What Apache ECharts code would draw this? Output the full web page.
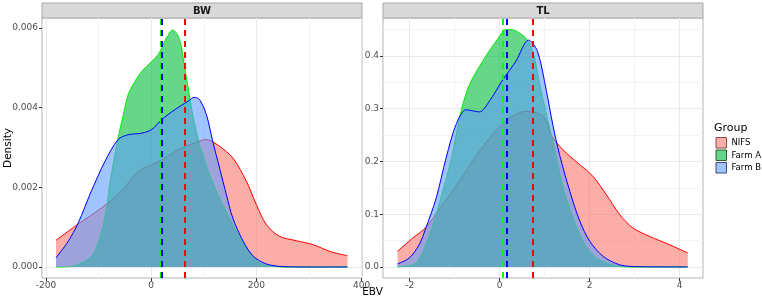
<!DOCTYPE html>
<html>
<head>
<meta charset="utf-8">
<script src="https://cdn.jsdelivr.net/npm/echarts@6/dist/echarts.min.js"></script>
<style>
html,body{margin:0;padding:0;background:#fff;}
#chart{width:762px;height:301px;}
</style>
</head>
<body>
<div id="chart"></div>
<script>
// ---------- data ----------
const panels = ['BW', 'TL'];
const groups = ['NIFS', 'Farm A', 'Farm B'];

// BW panel densities
const bwNifsX = [-181, -142, -95, -57, -25, 1, 20, 58, 96, 103, 111, 130, 155, 181, 200, 219, 244, 276, 308, 340, 373];
const bwNifsY = [0.00067, 0.00105, 0.00148, 0.0019, 0.0024, 0.00257, 0.00269, 0.00299, 0.00318, 0.0032, 0.00318, 0.00303, 0.00274, 0.00215, 0.00156, 0.00106, 0.00077, 0.00066, 0.00056, 0.00039, 0.00028];

const bwFarmAX = [-181, -150, -133, -120, -107, -88, -79, -68, -63, -53, -44, -31, -18, 1, 13, 20, 29, 41, 48, 55, 61, 67, 74, 80, 92, 111, 130, 155, 181, 206, 230, 260, 373];
const bwFarmAY = [0, 0.00002, 0.0001, 0.0002, 0.00039, 0.00123, 0.00207, 0.0029, 0.00324, 0.00382, 0.00432, 0.00466, 0.00491, 0.00516, 0.00533, 0.0055, 0.00575, 0.00595, 0.00587, 0.00566, 0.00524, 0.00474, 0.0042, 0.00374, 0.00307, 0.00232, 0.00173, 0.00106, 0.00048, 0.0001, 0.00002, 0, 0];

const bwFarmBX = [-181, -158, -139, -114, -88, -63, -44, -18, 1, 20, 45, 70, 82, 92, 105, 117, 130, 143, 155, 175, 194, 219, 250, 300, 373];
const bwFarmBY = [0.00023, 0.00064, 0.0011, 0.0019, 0.00265, 0.0032, 0.00332, 0.00336, 0.00345, 0.0037, 0.00395, 0.00416, 0.00426, 0.0042, 0.00382, 0.00315, 0.00248, 0.00181, 0.00123, 0.00064, 0.00027, 0.000075, 0.00001, 0, 0];

// TL panel densities
const tlNifsX = [-2.27, -1.93, -1.64, -1.27, -0.90, -0.53, -0.16, 0.21, 0.58, 0.96, 1.18, 1.48, 1.78, 2.07, 2.37, 2.67, 2.96, 3.33, 3.78, 4.18];
const tlNifsY = [0.0297, 0.055, 0.075, 0.118, 0.162, 0.21, 0.251, 0.282, 0.295, 0.286, 0.245, 0.216, 0.194, 0.172, 0.137, 0.099, 0.074, 0.058, 0.042, 0.0265];

const tlFarmAX = [-2.27, -2.0, -1.86, -1.70, -1.56, -1.41, -1.27, -1.15, -1.04, -0.86, -0.67, -0.38, -0.08, 0.15, 0.25, 0.58, 0.75, 0.89, 1.11, 1.26, 1.41, 1.63, 1.85, 2.15, 2.59, 3.0, 4.18];
const tlFarmAY = [0, 0.003, 0.0076, 0.03, 0.061, 0.1, 0.143, 0.18, 0.219, 0.295, 0.346, 0.39, 0.428, 0.45, 0.45, 0.434, 0.405, 0.346, 0.263, 0.207, 0.15, 0.093, 0.049, 0.017, 0.002, 0, 0];

const tlFarmBX = [-2.27, -2.01, -1.79, -1.64, -1.41, -1.19, -0.97, -0.75, -0.60, -0.45, -0.23, 0.07, 0.36, 0.64, 0.84, 1.04, 1.18, 1.33, 1.56, 1.78, 2.0, 2.30, 2.67, 3.1, 4.18];
const tlFarmBY = [0.0057, 0.017, 0.042, 0.074, 0.131, 0.207, 0.27, 0.298, 0.296, 0.294, 0.314, 0.355, 0.39, 0.43, 0.409, 0.333, 0.27, 0.213, 0.143, 0.087, 0.049, 0.02, 0.004, 0.0005, 0];

// group means (dashed lines), order: NIFS, Farm A, Farm B
const bwMeans = [63.4, 19, 20];
const tlMeans = [0.73, 0.06, 0.15];

// axis ticks
const bwXTicks = [-200, 0, 200, 400];
const bwXMinor = [-100, 100, 300];
const bwYTicks = [0, 0.002, 0.004, 0.006];
const bwYMinor = [0.001, 0.003, 0.005];
const tlXTicks = [-2, 0, 2, 4];
const tlXMinor = [-1, 1, 3];
const tlYTicks = [0, 0.1, 0.2, 0.3, 0.4];
const tlYMinor = [0.05, 0.15, 0.25, 0.35, 0.45];

// ---------- styling ----------
const fills = ['rgba(248,118,109,0.6)', 'rgba(0,186,56,0.6)', 'rgba(97,156,255,0.6)'];
const lines = ['#ff0000', '#00ee00', '#0000ff'];
const vlines = ['#ff0000', '#00ff00', '#0000ff'];
const FONT = 'DejaVu Sans';

const zip = (xs, ys) => xs.map((x, i) => [x, ys[i]]);

const panelData = [
  { x: [bwNifsX, bwFarmAX, bwFarmBX], y: [bwNifsY, bwFarmAY, bwFarmBY], means: bwMeans,
    xt: bwXTicks, xm: bwXMinor, yt: bwYTicks, ym: bwYMinor, xr: [-207.6, 400.6], yr: [-0.000276, 0.00625], dec: 3 },
  { x: [tlNifsX, tlFarmAX, tlFarmBX], y: [tlNifsY, tlFarmAY, tlFarmBY], means: tlMeans,
    xt: tlXTicks, xm: tlXMinor, yt: tlYTicks, ym: tlYMinor, xr: [-2.593, 4.518], yr: [-0.0209, 0.472], dec: 1 }
];

const gridPos = [{ left: 42, top: 18, width: 320, height: 260 }, { left: 383, top: 18, width: 320, height: 260 }];

const grids = [], xAxes = [], yAxes = [], series = [];
panelData.forEach((p, i) => {
  grids.push(Object.assign({ show: true, borderColor: '#b3b3b3', borderWidth: 1, backgroundColor: 'transparent', containLabel: false }, gridPos[i]));
  const labelStyle = { color: '#4d4d4d', fontSize: 9, fontFamily: FONT };
  xAxes.push({
    type: 'value', gridIndex: i, min: p.xr[0], max: p.xr[1],
    axisLine: { show: false, onZero: false }, splitLine: { show: false },
    axisTick: { show: true, customValues: p.xt, length: 3, lineStyle: { color: '#333', width: 1 } },
    axisLabel: Object.assign({ customValues: p.xt, margin: 3, formatter: v => String(v) }, labelStyle)
  });
  yAxes.push({
    type: 'value', gridIndex: i, min: p.yr[0], max: p.yr[1],
    axisLine: { show: false, onZero: false }, splitLine: { show: false },
    axisTick: { show: true, customValues: p.yt, length: 3, lineStyle: { color: '#333', width: 1 } },
    axisLabel: Object.assign({ customValues: p.yt, margin: 4, formatter: v => v.toFixed(p.dec) }, labelStyle)
  });
  // grid lines
  const gl = [];
  p.xm.forEach(v => gl.push({ xAxis: v, lineStyle: { color: '#f4f4f4', width: 1, type: 'solid' } }));
  p.ym.forEach(v => gl.push({ yAxis: v, lineStyle: { color: '#f4f4f4', width: 1, type: 'solid' } }));
  p.xt.forEach(v => gl.push({ xAxis: v, lineStyle: { color: '#e8e8e8', width: 1, type: 'solid' } }));
  p.yt.forEach(v => gl.push({ yAxis: v, lineStyle: { color: '#e8e8e8', width: 1, type: 'solid' } }));
  series.push({
    type: 'line', xAxisIndex: i, yAxisIndex: i, z: 1, silent: true,
    data: [[p.x[0][0], 0]], showSymbol: false, lineStyle: { opacity: 0 },
    markLine: { z: 1, silent: true, symbol: 'none', label: { show: false }, animation: false, data: gl }
  });
  // density areas
  for (let g = 0; g < 3; g++) {
    series.push({
      name: groups[g], type: 'line', xAxisIndex: i, yAxisIndex: i, z: 2 + g,
      data: zip(p.x[g], p.y[g]), showSymbol: false, smooth: 0.3,
      lineStyle: { color: lines[g], width: 1 },
      areaStyle: { color: fills[g], opacity: 1 },
      silent: true
    });
  }
  // mean lines (drawn green, blue, red)
  [1, 2, 0].forEach((g, k) => {
    series.push({
      type: 'line', xAxisIndex: i, yAxisIndex: i, z: 10 + k, silent: true,
      data: [[p.x[0][0], 0]], showSymbol: false, lineStyle: { opacity: 0 },
      markLine: { z: 10 + k, silent: true, symbol: 'none', label: { show: false }, animation: false,
        lineStyle: { color: vlines[g], width: 2, type: [6, 5] },
        data: [{ xAxis: p.means[g] }] }
    });
  });
});

// strips, axis titles, legend
const graphic = [];
panels.forEach((name, i) => {
  const gp = gridPos[i];
  graphic.push({ type: 'rect', shape: { x: gp.left, y: 3, width: gp.width, height: 15 },
    style: { fill: '#d9d9d9', stroke: '#a8a8a8', lineWidth: 1 } });
  graphic.push({ type: 'text', x: gp.left + gp.width / 2, y: 11,
    style: { text: name, fill: '#1a1a1a', font: 'bold 10px "' + FONT + '"', textAlign: 'center', textVerticalAlign: 'middle' } });
});
graphic.push({ type: 'text', x: 8, y: 148, rotation: Math.PI / 2,
  style: { text: 'Density', fill: '#000', font: '10.5px "' + FONT + '"', textAlign: 'center', textVerticalAlign: 'middle' } });
graphic.push({ type: 'text', x: 372.5, y: 292,
  style: { text: 'EBV', fill: '#000', font: '10.5px "' + FONT + '"', textAlign: 'center', textVerticalAlign: 'middle' } });
graphic.push({ type: 'text', x: 714, y: 128,
  style: { text: 'Group', fill: '#000', font: '11px "' + FONT + '"', textAlign: 'left', textVerticalAlign: 'middle' } });
const keyStroke = ['#8a4a4a', '#2f5a35', '#404a78'];
groups.forEach((gname, g) => {
  const ky = 137.5 + g * 12.5;
  graphic.push({ type: 'rect', shape: { x: 716, y: ky, width: 10.5, height: 10.5 },
    style: { fill: fills[g], stroke: keyStroke[g], lineWidth: 1 } });
  graphic.push({ type: 'text', x: 731.5, y: ky + 5.5,
    style: { text: gname, fill: '#000', font: '8.5px "' + FONT + '"', textAlign: 'left', textVerticalAlign: 'middle' } });
});

const chart = echarts.init(document.getElementById('chart'), null, { renderer: 'canvas' });
chart.setOption({
  animation: false,
  backgroundColor: '#fff',
  grid: grids, xAxis: xAxes, yAxis: yAxes, series: series, graphic: graphic
});
</script>
</body>
</html>
